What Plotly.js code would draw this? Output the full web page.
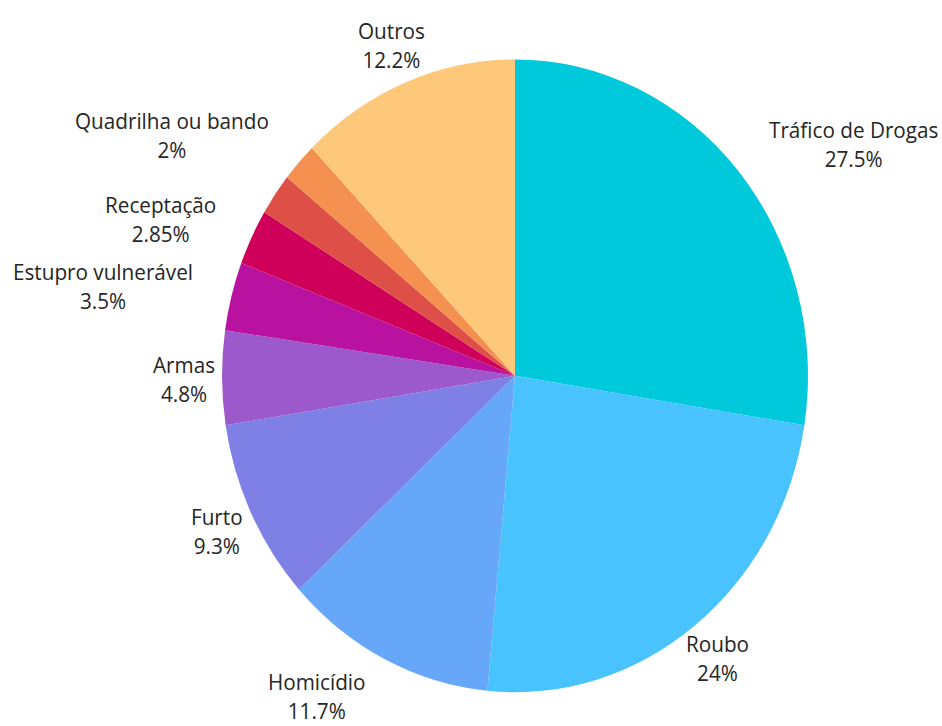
<!DOCTYPE html>
<html>
<head>
<meta charset="utf-8">
<script src="https://cdn.plot.ly/plotly-3.0.1.min.js"></script>
<style>
  html, body { margin: 0; padding: 0; background: #ffffff; overflow: hidden; }
  #wrap { width: 942px; height: 726px; overflow: hidden; }
  #chart { width: 942px; height: 672px; transform: scaleY(1.08); transform-origin: 0 0; }
</style>
</head>
<body>
<div id="wrap"><div id="chart"></div></div>
<script>
// Categories (clockwise from 12 o'clock); one thin slice carries no visible label
var categories = ["Tráfico de Drogas", "Roubo", "Homicídio", "Furto", "Armas",
                  "Estupro vulnerável", "Receptação", "(sem rótulo)", "Quadrilha ou bando", "Outros"];
var shares = [27.5, 24, 11.7, 9.3, 4.8, 3.5, 2.85, 2.15, 2, 12.2];
var shareLabels = ["27.5%", "24%", "11.7%", "9.3%", "4.8%", "3.5%", "2.85%", "", "2%", "12.2%"];
var showLabel = [true, true, true, true, true, true, true, false, true, true];
var sliceColors = ["#00C9DC", "#48C3FD", "#66A7F9", "#7F80E6", "#9B59CC",
                   "#B912A0", "#CF005A", "#DD4F47", "#F49150", "#FDC87A"];

// ---- geometry of the drawing (style, not data) ----
var W = 942, H = 672;
var dom = { x: [0.2357, 0.8577], y: [0.0461, 0.9182] };
var FONT_SIZE = 20.7, FONT_FAMILY = "Open Sans";
var LABEL_GAP = 38;          // distance of label anchor beyond the rim

var cx = (dom.x[0] + dom.x[1]) / 2 * W;
var cy = H - (dom.y[0] + dom.y[1]) / 2 * H;
var R = Math.min((dom.x[1] - dom.x[0]) * W, (dom.y[1] - dom.y[0]) * H) / 2;
var L = R + LABEL_GAP;

var total = shares.reduce(function (a, b) { return a + b; }, 0);
var ctx = document.createElement("canvas").getContext("2d");
ctx.font = FONT_SIZE + "px '" + FONT_FAMILY + "'";

var annotations = [];
var cum = 0;
shares.forEach(function (v, i) {
  var mid = (cum + v / 2) / total * 2 * Math.PI;   // clockwise from top
  cum += v;
  if (!showLabel[i]) return;
  var dx = Math.sin(mid), dy = -Math.cos(mid);
  var px = L * dx, py = L * dy;                     // relative to centre, y down
  var w = Math.max(ctx.measureText(categories[i]).width, ctx.measureText(shareLabels[i]).width);
  var h = FONT_SIZE * 1.3 * 2;
  // centred box; if it would cut into the pie, align its inner edge to the anchor point
  var bx0 = px - w / 2, bx1 = px + w / 2, by0 = py - h / 2, by1 = py + h / 2;
  var nx = Math.max(bx0, Math.min(0, bx1)), ny = Math.max(by0, Math.min(0, by1));
  var anchor = "center";
  if (Math.sqrt(nx * nx + ny * ny) < R - 3) anchor = px > 0 ? "left" : "right";
  annotations.push({
    xref: "paper", yref: "paper",
    x: (cx + px) / W, y: 1 - (cy + py) / H,
    xanchor: anchor, yanchor: "middle", align: "center",
    showarrow: false,
    text: categories[i] + "<br>" + shareLabels[i],
    font: { family: FONT_FAMILY + ", sans-serif", size: FONT_SIZE, color: "#262626" }
  });
});

var trace = {
  type: "pie",
  labels: categories,
  values: shares,
  textinfo: "none",
  sort: false,
  direction: "clockwise",
  rotation: 0,
  marker: { colors: sliceColors, line: { width: 0 } },
  hovertext: shareLabels,
  hoverinfo: "label+text",
  domain: dom
};

var layout = {
  width: W,
  height: H,
  margin: { l: 0, r: 0, t: 0, b: 0 },
  showlegend: false,
  paper_bgcolor: "#ffffff",
  font: { family: "Open Sans, sans-serif", size: FONT_SIZE, color: "#262626" },
  annotations: annotations
};

Plotly.newPlot("chart", [trace], layout, { displayModeBar: false, staticPlot: true });
</script>
</body>
</html>
